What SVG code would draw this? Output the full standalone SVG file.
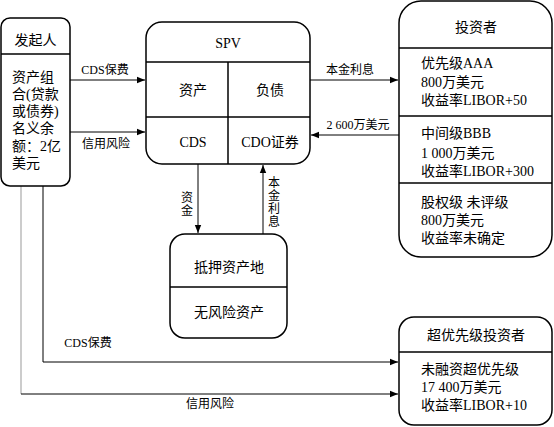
<svg xmlns="http://www.w3.org/2000/svg" width="554" height="427" viewBox="0 0 554 427">
<defs>
<marker id="ah" viewBox="0 0 10 10" refX="10" refY="5" markerWidth="8" markerHeight="8" markerUnits="userSpaceOnUse" orient="auto"><path d="M0,1 L10,5 L0,9 z" fill="#000"/></marker>
<style>
text{font-family:"Liberation Serif","Noto Sans CJK SC",serif;fill:#000}
.t{font-size:14px}
.l{font-size:12px}
.box{fill:#fff;stroke:#000;stroke-width:1.5}
.div{stroke:#000;stroke-width:1.5;fill:none}
.c{stroke:#000;stroke-width:1;fill:none}
</style>
</defs>
<rect width="554" height="427" fill="#fff"/>
<g id="connectors">
<path class="c" d="M70,80 H145" marker-end="url(#ah)"/>
<path class="c" d="M70,132 H145" marker-end="url(#ah)"/>
<path class="c" d="M310,80 H398" marker-end="url(#ah)"/>
<path class="c" d="M399,135 H311" marker-end="url(#ah)"/>
<path class="c" d="M198,164 V233" marker-end="url(#ah)"/>
<path class="c" d="M263,234 V165" marker-end="url(#ah)"/>
<path class="c" d="M43,186 V362 H398" marker-end="url(#ah)"/>
<path class="c" d="M21,186 V394" style="stroke:#999"/>
<path class="c" d="M21,394 H398" marker-end="url(#ah)"/>
<text class="l" x="105" y="74" text-anchor="middle">CDS保费</text>
<text class="l" x="106" y="148" text-anchor="middle">信用风险</text>
<text class="l" x="350" y="74" text-anchor="middle">本金利息</text>
<text class="l" x="358" y="129" text-anchor="middle">2  600万美元</text>
<text class="l" x="181" y="202">资</text>
<text class="l" x="181" y="215">金</text>
<text class="l" x="268" y="187">本</text>
<text class="l" x="268" y="200">金</text>
<text class="l" x="268" y="213">利</text>
<text class="l" x="268" y="226">息</text>
<text class="l" x="88" y="347" text-anchor="middle">CDS保费</text>
<text class="l" x="210" y="408" text-anchor="middle">信用风险</text>
</g>
<g id="sponsor">
<rect class="box" x="1" y="18" width="69" height="168" rx="9"/>
<line class="div" x1="1" y1="54" x2="70" y2="54"/>
<text class="t" x="35.5" y="45" text-anchor="middle">发起人</text>
<text class="t" x="12" y="82">资产组</text>
<text class="t" x="12" y="99">合(贷款</text>
<text class="t" x="12" y="116">或债券)</text>
<text class="t" x="12" y="133">名义余</text>
<text class="t" x="12" y="151">额：2亿</text>
<text class="t" x="12" y="168">美元</text>
</g>
<g id="spv">
<rect class="box" x="146" y="22" width="164" height="142" rx="16"/>
<line class="div" x1="146" y1="62" x2="310" y2="62"/>
<line class="div" x1="146" y1="117" x2="310" y2="117"/>
<line class="div" x1="228" y1="62" x2="228" y2="164"/>
<text class="t" x="228" y="48" text-anchor="middle">SPV</text>
<text class="t" x="193" y="95" text-anchor="middle">资产</text>
<text class="t" x="270" y="95" text-anchor="middle">负债</text>
<text class="t" x="193" y="147" text-anchor="middle">CDS</text>
<text class="t" x="270" y="147" text-anchor="middle">CDO证券</text>
</g>
<g id="investors">
<rect class="box" x="399" y="1" width="153" height="256" rx="22"/>
<line class="div" x1="399" y1="48" x2="552" y2="48"/>
<line class="div" x1="399" y1="116" x2="552" y2="116"/>
<line class="div" x1="399" y1="183" x2="552" y2="183"/>
<text class="t" x="476" y="32" text-anchor="middle">投资者</text>
<text class="t" x="421" y="68">优先级AAA</text>
<text class="t" x="421" y="87">800万美元</text>
<text class="t" x="421" y="105">收益率LIBOR+50</text>
<text class="t" x="421" y="138">中间级BBB</text>
<text class="t" x="421" y="158">1 000万美元</text>
<text class="t" x="421" y="176">收益率LIBOR+300</text>
<text class="t" x="421" y="207">股权级 未评级</text>
<text class="t" x="421" y="225">800万美元</text>
<text class="t" x="421" y="243">收益率未确定</text>
</g>
<g id="collateral">
<rect class="box" x="170" y="234" width="117" height="104" rx="15"/>
<line class="div" x1="170" y1="287" x2="287" y2="287"/>
<text class="t" x="229" y="272" text-anchor="middle">抵押资产地</text>
<text class="t" x="229" y="317" text-anchor="middle">无风险资产</text>
</g>
<g id="super-senior">
<rect class="box" x="399" y="317" width="153" height="108" rx="15"/>
<line class="div" x1="399" y1="352" x2="552" y2="352"/>
<text class="t" x="476" y="340" text-anchor="middle">超优先级投资者</text>
<text class="t" x="421" y="374">未融资超优先级</text>
<text class="t" x="421" y="392">17 400万美元</text>
<text class="t" x="421" y="410">收益率LIBOR+10</text>
</g>
</svg>
